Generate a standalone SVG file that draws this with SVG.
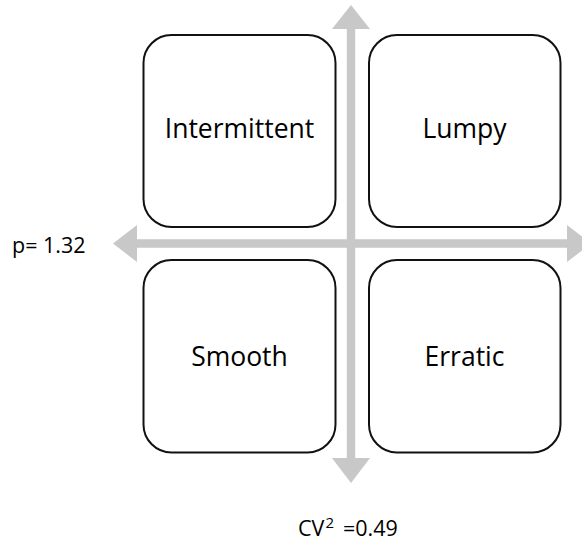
<svg xmlns="http://www.w3.org/2000/svg" width="582" height="545" viewBox="0 0 582 545">
  <style>
    .axis { fill: #c8c8c8; stroke: none; }
    .box { fill: #ffffff; stroke: #111111; stroke-width: 2; }
    .label { font-family: "Open Sans", "Liberation Sans", sans-serif; font-size: 26.5px; fill: #000000; text-anchor: middle; }
    .axis-label { font-family: "Open Sans", "Liberation Sans", sans-serif; font-size: 21.5px; fill: #000000; }
  </style>

  <!-- Axes: double-headed block arrows -->
  <g id="connectors">
    <polygon class="axis" points="351,5 370,29 355.2,29 355.2,458 370,458 351,483 332,458 346.8,458 346.8,29 332,29"/>
    <polygon class="axis" points="113,243.5 137,225 137,239.3 567,239.3 567,225 591,243.5 567,262 567,247.7 137,247.7 137,262"/>
  </g>

  <g id="intermittent">
    <rect class="box" x="143.5" y="35" width="192" height="192" rx="28" ry="28"/>
    <text class="label" x="239.5" y="138">Intermittent</text>
  </g>

  <g id="lumpy">
    <rect class="box" x="369" y="35" width="191.5" height="192" rx="28" ry="28"/>
    <text class="label" x="464.5" y="138">Lumpy</text>
  </g>

  <g id="smooth">
    <rect class="box" x="143.5" y="260" width="192" height="192.5" rx="28" ry="28"/>
    <text class="label" x="239.5" y="366">Smooth</text>
  </g>

  <g id="erratic">
    <rect class="box" x="369" y="260" width="191.5" height="192.5" rx="28" ry="28"/>
    <text class="label" x="464.5" y="366">Erratic</text>
  </g>

  <g id="p-threshold">
    <text class="axis-label" x="12" y="253">p= 1.32</text>
  </g>

  <g id="cv-threshold">
    <text class="axis-label" x="298" y="536">CV<tspan dx="1" dy="-8" font-size="15">2</tspan><tspan dx="9" dy="8">=0.49</tspan></text>
  </g>
</svg>
